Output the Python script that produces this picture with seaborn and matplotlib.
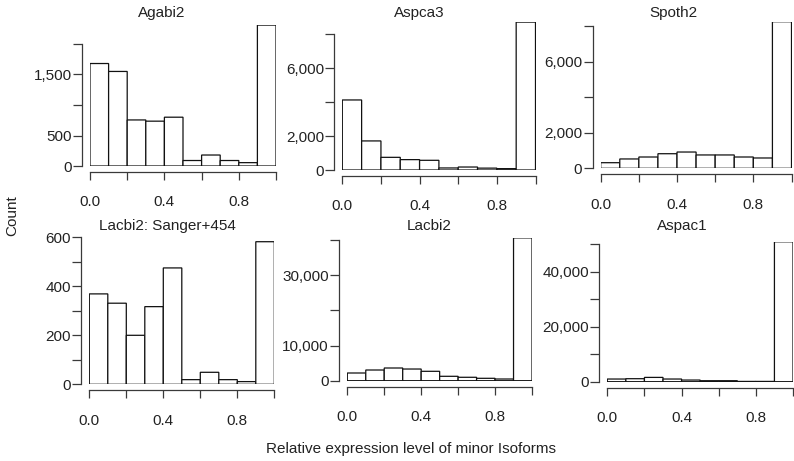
import numpy as np
import pandas as pd
import matplotlib
matplotlib.use("Agg")
import matplotlib.pyplot as plt
import seaborn as sns

# ---- data ----
bin_left = [0.0, 0.1, 0.2, 0.3, 0.4, 0.5, 0.6, 0.7, 0.8, 0.9]
bin_width = 0.1

titles = ["Agabi2", "Aspca3", "Spoth2", "Lacbi2: Sanger+454", "Lacbi2", "Aspac1"]

agabi2 = [1680, 1550, 755, 735, 800, 90, 180, 90, 55, 2310]
aspca3 = [4120, 1710, 745, 610, 570, 120, 175, 110, 80, 8700]
spoth2 = [315, 525, 635, 820, 915, 750, 750, 635, 580, 8240]
lacbi2_sanger = [369, 331, 200, 317, 475, 19, 49, 19, 11, 582]
lacbi2 = [2190, 3040, 3610, 3320, 2670, 1250, 970, 680, 480, 40600]
aspac1 = [970, 1090, 1560, 970, 600, 360, 360, 100, 100, 50800]

counts_all = [agabi2, aspca3, spoth2, lacbi2_sanger, lacbi2, aspac1]

x_ticks = [0.0, 0.2, 0.4, 0.6, 0.8, 1.0]
x_ticklabels = ["0.0", "", "0.4", "", "0.8", ""]

y_ticks_all = [
    [0, 500, 1000, 1500, 2000],
    [0, 2000, 4000, 6000, 8000],
    [0, 2000, 4000, 6000, 8000],
    [0, 100, 200, 300, 400, 500, 600],
    [0, 10000, 20000, 30000, 40000],
    [0, 10000, 20000, 30000, 40000, 50000],
]
y_ticklabels_all = [
    ["0", "500", "", "1,500", ""],
    ["0", "2,000", "", "6,000", ""],
    ["0", "2,000", "", "6,000", ""],
    ["0", "", "200", "", "400", "", "600"],
    ["0", "10,000", "", "30,000", ""],
    ["0", "", "20,000", "", "40,000", ""],
]

# ---- layout (pixels) ----
W, H = 794, 461
# left px, right px, zero-line px, px per unit, title x, title y
layout = [
    (90.0, 276.0, 166.0, 122.0 / 2000, 161.7, 13.5),
    (342.3, 535.5, 170.0, 136.0 / 8000, 419.0, 12.5),
    (600.7, 791.5, 168.3, 142.3 / 8000, 673.3, 12.5),
    (89.3, 274.3, 384.3, 147.0 / 600, 167.5, 225.5),
    (347.3, 532.0, 380.7, 140.7 / 40000, 429.0, 225.5),
    (607.3, 793.0, 381.7, 137.7 / 50000, 682.0, 225.5),
]

sns.set_theme(style="ticks")
plt.rcParams["font.family"] = ["Liberation Sans", "DejaVu Sans"]

fig = plt.figure(figsize=(W / 100, H / 100), dpi=100)
fig.patch.set_facecolor("white")

axis_color = "#3a3a3a"
px = 72 / 100  # points per pixel

edges = bin_left + [bin_left[-1] + bin_width]

for i in range(6):
    L, R, B, sc, tx, ty = layout[i]
    counts = counts_all[i]
    yt = y_ticks_all[i]
    ytop = max(max(counts), yt[-1])
    T = B - ytop * sc
    ax = fig.add_axes([L / W, 1 - B / H, (R - L) / W, (B - T) / H])
    centers = [b + bin_width / 2 for b in bin_left]
    df = pd.DataFrame({"x": centers, "n": counts})
    sns.histplot(data=df, x="x", weights="n", bins=edges, ax=ax,
                 color="white", edgecolor="#111111", linewidth=0.9,
                 alpha=1, fill=True)
    for p in ax.patches:
        p.set_snap(False)
    ax.set_xlim(0, 1)
    ax.set_ylim(0, ytop)
    ax.set_xlabel("")
    ax.set_ylabel("")
    ax.set_facecolor("none")
    for s in ["top", "right"]:
        ax.spines[s].set_visible(False)
    ax.spines["left"].set_position(("outward", 8 * px))
    ax.spines["bottom"].set_position(("outward", 6 * px))
    ax.spines["left"].set_bounds(0, yt[-1])
    ax.spines["bottom"].set_bounds(0, 1)
    for s in ["left", "bottom"]:
        ax.spines[s].set_color(axis_color)
        ax.spines[s].set_linewidth(0.9)
    ax.set_xticks(x_ticks)
    ax.set_xticklabels(x_ticklabels)
    ax.set_yticks(yt)
    ax.set_yticklabels(y_ticklabels_all[i])
    ax.tick_params(axis="x", length=8 * px, width=0.9, color=axis_color,
                   pad=11, labelsize=11, labelcolor="#222222")
    ax.tick_params(axis="y", length=9 * px, width=0.9, color=axis_color,
                   pad=1, labelsize=11, labelcolor="#222222")
    fig.text(tx / W, 1 - ty / H, titles[i], ha="center", va="center",
             fontsize=11, color="#222222")

fig.text(12 / W, 1 - 216 / H, "Count", rotation=90, ha="center",
         va="center", fontsize=11, color="#222222")
fig.text(411 / W, 1 - 449 / H, "Relative expression level of minor Isoforms",
         ha="center", va="center", fontsize=11, color="#222222")

fig.savefig("out.png", dpi=100, facecolor="white")
